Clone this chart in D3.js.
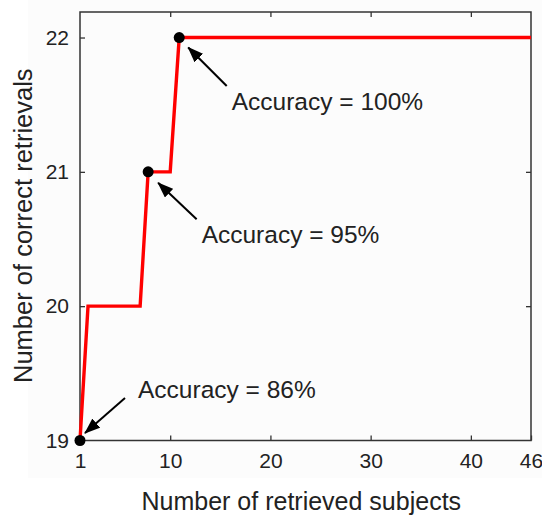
<!DOCTYPE html>
<html lang="en">
<head>
<meta charset="UTF-8">
<title>Correct retrievals</title>
<script src="https://d3js.org/d3.v7.min.js"></script>
<style>
  body {margin:0; background:#fff;}
  svg {display:block; font-family:"Liberation Sans", Arial, sans-serif;}
  .axis text {font-size:21px; fill:#222;}
  .axis line {stroke:#333; stroke-width:1.3;}
  .axis path {display:none;}
</style>
</head>
<body>
<svg id="chart" width="542" height="515"></svg>
<script>
// step curve: subjects retrieved -> correct retrievals
var subjects = [1, 1.8, 7.0, 7.8, 10.0, 10.9, 46];
var correct  = [19, 20, 20, 21, 21, 22, 22];

// highlighted points and their labels
var markX = [1, 7.8, 10.9];
var markY = [19, 21, 22];
var markLabels = ["Accuracy = 86%", "Accuracy = 95%", "Accuracy = 100%"];

var xTicks = [1, 10, 20, 30, 40, 46];
var yTicks = [19, 20, 21, 22];

var W = 542, H = 515;
// note: "top" is taken by window.top, so plot edges get a prefix
var pLeft = 80, pRight = 531, pTop = 12, pBottom = 440.5;

var svg = d3.select("#chart");

// faint grey backdrop of the original figure
svg.append("rect").attr("x", 28).attr("y", 0).attr("width", W - 28).attr("height", 478)
    .attr("fill", "#fcfcfc");

var x = d3.scaleLinear().domain([1, 46]).range([pLeft, pRight]);
var y = d3.scaleLinear().domain([19, 22.19]).range([pBottom, pTop]);

// axes, ticks pointing inward like matlab
svg.append("g").attr("class", "axis").attr("transform", "translate(0," + pBottom + ")")
    .call(d3.axisBottom(x).tickValues(xTicks).tickSizeInner(-5).tickSizeOuter(0).tickPadding(13));
svg.append("g").attr("class", "axis").attr("transform", "translate(0," + pTop + ")")
    .call(d3.axisTop(x).tickValues([10, 20, 30, 40]).tickSizeInner(-5).tickSizeOuter(0).tickFormat(""));
svg.append("g").attr("class", "axis").attr("transform", "translate(" + pLeft + ",0)")
    .call(d3.axisLeft(y).tickValues(yTicks).tickFormat(d3.format("d"))
        .tickSizeInner(-5).tickSizeOuter(0).tickPadding(11));
svg.append("g").attr("class", "axis").attr("transform", "translate(" + pRight + ",0)")
    .call(d3.axisRight(y).tickValues([20, 21, 22]).tickSizeInner(-5).tickSizeOuter(0).tickFormat(""));

svg.append("rect")
    .attr("x", pLeft).attr("y", pTop)
    .attr("width", pRight - pLeft).attr("height", pBottom - pTop)
    .attr("fill", "none").attr("stroke", "#333").attr("stroke-width", 1.5);

// red curve
var line = d3.line()
    .x(function(d, i){ return x(subjects[i]); })
    .y(function(d, i){ return y(correct[i]); });
svg.append("path")
    .datum(subjects)
    .attr("d", line)
    .attr("fill", "none")
    .attr("stroke", "#ff0000")
    .attr("stroke-width", 3.4)
    .attr("stroke-linejoin", "miter");

// arrowhead
svg.append("defs").append("marker")
    .attr("id", "arrow")
    .attr("markerUnits", "userSpaceOnUse")
    .attr("viewBox", "0 0 16 12")
    .attr("refX", 15).attr("refY", 6)
    .attr("markerWidth", 16).attr("markerHeight", 12)
    .attr("orient", "auto")
    .append("path").attr("d", "M0,0 L16,6 L0,12 Z").attr("fill", "#000");

// pixel offsets of tip, tail and text relative to each marked point
var layout = [
    {tip: [5, -7.5], tail: [45, -42.5], text: [58, -43]},
    {tip: [10, 11], tail: [48.5, 47.5], text: [53.5, 71]},
    {tip: [9, 10], tail: [47.5, 48.5], text: [52.5, 72.5]}
];

markX.forEach(function(mx, i){
    var px = x(mx), py = y(markY[i]), L = layout[i];
    svg.append("line")
        .attr("x1", px + L.tail[0]).attr("y1", py + L.tail[1])
        .attr("x2", px + L.tip[0]).attr("y2", py + L.tip[1])
        .attr("stroke", "#000").attr("stroke-width", 2)
        .attr("marker-end", "url(#arrow)");
    svg.append("text")
        .attr("x", px + L.text[0]).attr("y", py + L.text[1])
        .attr("font-size", 24.5).attr("fill", "#222")
        .text(markLabels[i]);
});

svg.selectAll("circle.mark")
    .data(markX)
    .enter()
    .append("circle")
    .attr("class", "mark")
    .attr("cx", function(d){ return x(d); })
    .attr("cy", function(d, i){ return y(markY[i]); })
    .attr("r", 5.5)
    .attr("fill", "#000");

// axis titles
svg.append("text")
    .attr("x", 141.5).attr("y", 510)
    .attr("font-size", 25).attr("fill", "#222")
    .text("Number of retrieved subjects");
svg.append("text")
    .attr("transform", "translate(32,383) rotate(-90)")
    .attr("font-size", 25.5).attr("fill", "#222")
    .text("Number of correct retrievals");
</script>
</body>
</html>
